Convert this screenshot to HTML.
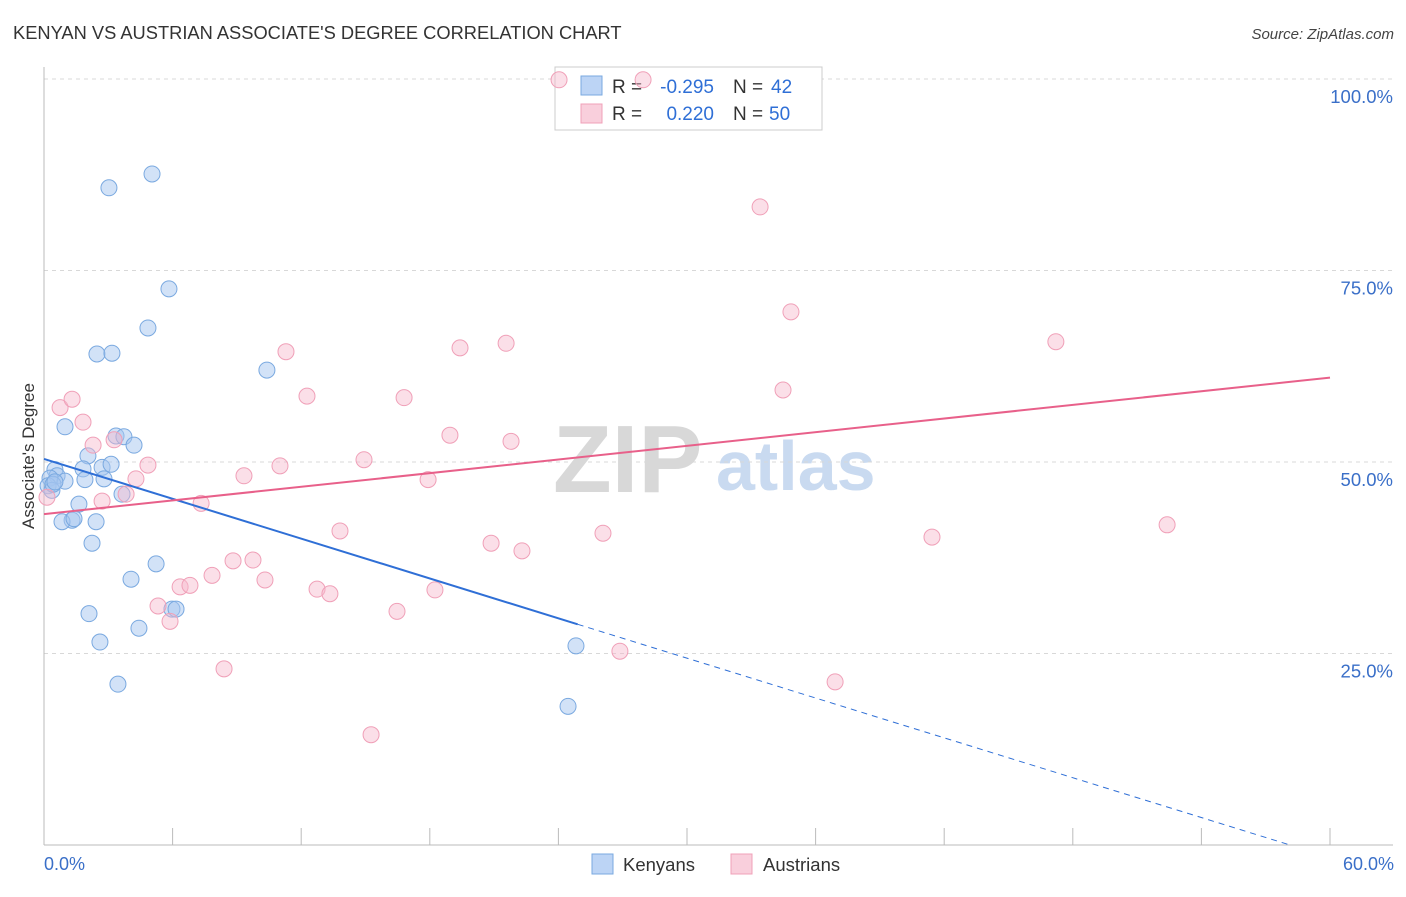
<!DOCTYPE html>
<html><head><meta charset="utf-8"><style>
body{margin:0;background:#fff;font-family:"Liberation Sans",sans-serif;}
svg text{font-family:"Liberation Sans",sans-serif;}
</style></head><body>
<svg id="chart" width="1406" height="892" viewBox="0 0 1406 892" xmlns="http://www.w3.org/2000/svg">
<text x="13" y="39" font-size="18.3" fill="#333">KENYAN VS AUSTRIAN ASSOCIATE'S DEGREE CORRELATION CHART</text>
<text x="1394" y="39" font-size="15" fill="#444" text-anchor="end" font-style="italic">Source: ZipAtlas.com</text>
<g>
<text x="553" y="492" font-size="96" fill="#d8d8d8" font-family="Liberation Serif,serif" font-weight="bold">ZIP</text>
<text x="716" y="490" font-size="70" fill="#c9daf0" font-weight="bold">atlas</text>
</g>
<g id="grid"></g>
<g id="axes"></g>
<g>
<rect x="555" y="67" width="267" height="63" fill="#fff" stroke="#ccc"/>
<rect x="581" y="76" width="21" height="19" fill="#bcd4f5" stroke="#7aa9e0"/>
<text x="612" y="93" font-size="19" fill="#333">R =</text>
<text x="714" y="93" font-size="19" fill="#2f6fd6" text-anchor="end">-0.295</text>
<text x="733" y="93" font-size="19" fill="#333">N =</text>
<text x="771" y="93" font-size="19" fill="#2f6fd6">42</text>
<rect x="581" y="104" width="21" height="19" fill="#f9cfdc" stroke="#f0a0b8"/>
<text x="612" y="120" font-size="19" fill="#333">R =</text>
<text x="714" y="120" font-size="19" fill="#2f6fd6" text-anchor="end">0.220</text>
<text x="733" y="120" font-size="19" fill="#333">N =</text>
<text x="769" y="120" font-size="19" fill="#2f6fd6">50</text>
</g>
<g id="pts"></g>
<g id="lines"></g>
<text transform="translate(34,456) rotate(-90)" font-size="17" fill="#333" text-anchor="middle">Associate's Degree</text>
<text x="44" y="870" font-size="18" fill="#3a6fc8">0.0%</text>
<text x="1394" y="870" font-size="18" fill="#3a6fc8" text-anchor="end">60.0%</text>
<g>
<rect x="592" y="854" width="21" height="20" fill="#bcd4f5" stroke="#7aa9e0"/>
<text x="623" y="871" font-size="18.5" fill="#333">Kenyans</text>
<rect x="731" y="854" width="21" height="20" fill="#f9cfdc" stroke="#f0a0b8"/>
<text x="763" y="871" font-size="18.5" fill="#333">Austrians</text>
</g>
</svg>
<script>
const kenX=[3.03,5.04,5.83,4.85,2.47,3.17,10.40,0.98,3.36,3.73,4.20,2.05,2.71,3.13,1.82,0.51,0.61,0.28,0.98,1.91,2.80,0.19,0.37,3.64,1.63,1.31,0.84,2.43,2.24,5.23,4.06,2.10,5.97,6.16,4.43,2.61,3.45,24.82,24.45,0.42,1.40,0.51];
const kenY=[85.8,87.6,72.6,67.5,64.1,64.2,62.0,54.6,53.4,53.3,52.2,50.8,49.3,49.7,49.1,49.0,48.2,47.9,47.5,47.7,47.8,46.9,46.3,45.8,44.5,42.4,42.2,42.2,39.4,36.7,34.7,30.2,30.8,30.8,28.3,26.5,21.0,26.0,18.1,47.1,42.6,47.4];
const ausX=[24.03,27.95,33.41,34.85,47.21,11.29,19.41,21.56,34.48,12.27,16.80,0.75,1.31,1.82,18.94,21.79,2.29,3.27,4.85,14.93,11.01,9.33,17.92,4.29,3.83,2.71,7.33,52.40,13.81,20.86,26.08,41.43,22.30,8.82,9.75,7.84,10.31,6.35,6.81,12.74,13.34,5.32,5.88,18.24,16.47,8.40,26.87,36.91,15.26,0.14];
const ausY=[99.9,99.9,83.3,69.6,65.7,64.4,64.9,65.5,59.4,58.6,58.4,57.1,58.2,55.2,53.5,52.7,52.2,52.9,49.6,50.3,49.5,48.2,47.7,47.8,45.8,44.9,44.6,41.8,41.0,39.4,40.7,40.2,38.4,37.1,37.2,35.2,34.6,33.7,33.9,33.4,32.8,31.2,29.2,33.3,30.5,23.0,25.3,21.3,14.4,45.4];
const yTicks=[25,50,75,100];
const yTickLabels=["25.0%","50.0%","75.0%","100.0%"];
const kenTrend=[50.4,-0.867];
const ausTrend=[43.2,0.297];
const NS="http://www.w3.org/2000/svg";
const X=v=>44+v/60*1286, Y=v=>845-v/100*766;
function mk(t,a,p){const e=document.createElementNS(NS,t);for(const k in a)e.setAttribute(k,a[k]);p.appendChild(e);return e;}
const grid=document.getElementById('grid'),axes=document.getElementById('axes'),pts=document.getElementById('pts'),lines=document.getElementById('lines');
yTicks.forEach((t,i)=>{
 const l=mk('line',{x1:44,x2:1393,y1:Y(t),y2:Y(t),stroke:'#d8d8d8','stroke-dasharray':'4,4'},grid);
 
 
 const tx=mk('text',{x:1393,y:Y(t)+24,'font-size':18.5,fill:'#3a6fc8','text-anchor':'end'},grid);
 tx.textContent=yTickLabels[i];
 
 
});
const ya=mk('line',{x1:44,x2:44,y1:67,y2:845,stroke:'#bbb'},axes);


const xa=mk('line',{x1:44,x2:1393,y1:845,y2:845,stroke:'#bbb'},axes);


for(let i=1;i<=10;i++){const tk=mk('line',{x1:X(i*6),x2:X(i*6),y1:828,y2:845,stroke:'#bbb'},axes);
 
 }
kenX.forEach((v,i)=>{const c=mk('circle',{cx:X(v),cy:Y(kenY[i]),r:8,fill:'rgba(165,198,240,0.5)',stroke:'#7aa9e0','stroke-width':1},pts);
 
 });
ausX.forEach((v,i)=>{const c=mk('circle',{cx:X(v),cy:Y(ausY[i]),r:8,fill:'rgba(246,185,204,0.45)',stroke:'#f0a0b8','stroke-width':1},pts);
 
 });
const kEnd=24.9, kZero=-kenTrend[0]/kenTrend[1];
const k1=mk('line',{x1:X(0),y1:Y(kenTrend[0]),x2:X(kEnd),y2:Y(kenTrend[0]+kenTrend[1]*kEnd),stroke:'#2f6fd6','stroke-width':2},lines);


const k2=mk('line',{x1:X(kEnd),y1:Y(kenTrend[0]+kenTrend[1]*kEnd),x2:X(kZero),y2:Y(0),stroke:'#2f6fd6','stroke-width':1,'stroke-dasharray':'6,5'},lines);


const a1=mk('line',{x1:X(0),y1:Y(ausTrend[0]),x2:X(60),y2:Y(ausTrend[0]+ausTrend[1]*60),stroke:'#e8608a','stroke-width':2},lines);


</script>
</body></html>
